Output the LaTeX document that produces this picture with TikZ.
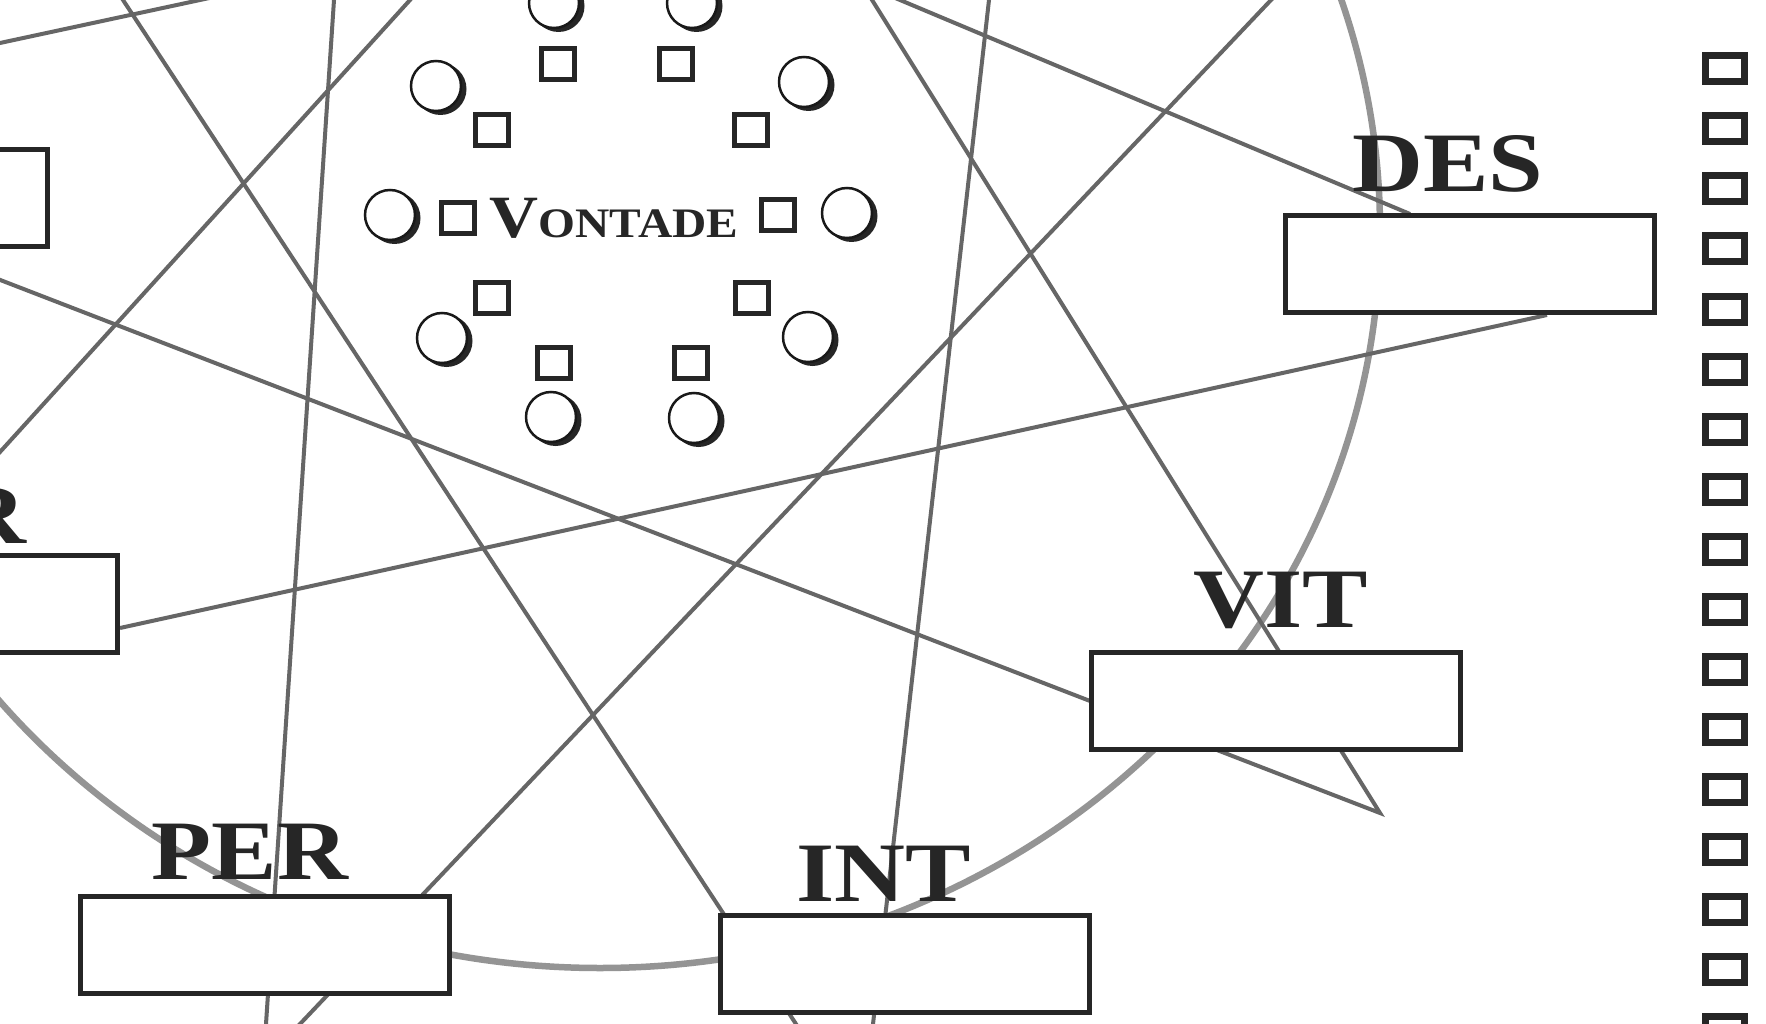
\documentclass[tikz,border=0pt]{standalone}
\usepackage{fontspec}
\setmainfont{Liberation Serif}
\usepackage{graphicx}
\begin{document}
\begin{tikzpicture}[x=1pt,y=-1pt,
  starline/.style={draw=black!60, line width=4pt, line join=miter},
  ring/.style={draw=black!42, line width=6.5pt},
  fbox/.style={draw=black!85, line width=5pt, fill=white, minimum width=369pt, minimum height=97pt, inner sep=0pt, rectangle},
  lab/.style={text=black!85, inner sep=0pt, font=\bfseries\fontsize{84.6}{84.6}\selectfont},
  tick/.style={draw=black!85, line width=7pt, fill=white, minimum width=39pt, minimum height=26pt, inner sep=0pt, rectangle},
  dotc/.style={circle, draw=black!90, line width=2.5pt, fill=white, minimum size=50pt, inner sep=0pt},
  csq/.style={rectangle, draw=black!85, line width=5pt, fill=white, minimum width=33pt, minimum height=31pt, inner sep=0pt}
]
\useasboundingbox (0,0) rectangle (1766,1024);
\fill[white] (0,0) rectangle (1766,1024);
\begin{scope}
\clip (0,0) rectangle (1766,1024);
% big ring
\draw[ring] (600,230) ellipse [x radius=780pt, y radius=738pt];
% free ends of the star lines
\coordinate (a1) at (0,43);    \coordinate (a2) at (200,0);
\coordinate (b1) at (123,0);   \coordinate (b2) at (796,1024);
\coordinate (d1) at (334,0);   \coordinate (d2) at (266,1024);
\coordinate (e1) at (410,0);   \coordinate (e2) at (0,452);
\coordinate (f1) at (0,280);   \coordinate (tip) at (1380,813); \coordinate (f2) at (872,0);
\coordinate (g1) at (120,628); \coordinate (g2) at (1547,315);
\coordinate (h1) at (1271,0);  \coordinate (h2) at (300,1024);
\coordinate (k1) at (989,0);   \coordinate (k2) at (873,1024);
\coordinate (m1) at (900,0);   \coordinate (m2) at (1410,214);
\draw[starline, shorten <=-20pt, shorten >=-20pt] (a1) -- (a2);
\draw[starline, shorten <=-20pt, shorten >=-20pt] (b1) -- (b2);
\draw[starline, shorten <=-20pt, shorten >=-20pt] (d1) -- (d2);
\draw[starline, shorten <=-20pt, shorten >=-20pt] (e1) -- (e2);
\draw[starline] ([shift={(-30,-11.7)}]f1) -- (tip) -- ([shift={(-19,-30.5)}]f2);
\draw[starline] (g1) -- (g2);
\draw[starline, shorten <=-20pt, shorten >=-20pt] (h1) -- (h2);
\draw[starline, shorten <=-20pt, shorten >=-20pt] (k1) -- (k2);
\draw[starline, shorten <=-20pt] (m1) -- (m2);
% boxes
\node[fbox] (tlbox) at (-137,198.5) {};
\node[fbox] (lbox) at (-67,603.5) {};
\node[fbox] (des) at (1470,264) {};
\node[fbox] (vit) at (1275.5,700.5) {};
\node[fbox] (int) at (905,963.5) {};
\node[fbox] (per) at (265,944.5) {};
% labels
\node[lab, anchor=base] (ldes) at (1448,192) {\scalebox{1.16}[1]{DES}};
\node[lab, anchor=base] (lvit) at (1281,627) {\scalebox{1.16}[1]{VIT}};
\node[lab, anchor=base] (lint) at (884,901) {\scalebox{1.16}[1]{INT}};
\node[lab, anchor=base] (lper) at (250,879) {\scalebox{1.16}[1]{PER}};
\node[lab, anchor=base east] (lr) at (27,543) {\scalebox{1.16}[1]{R}};
% central cluster
\foreach \x/\y [count=\i] in {554/3, 692/3, 436/86, 804/82, 390/215, 847/213, 442/338, 808/337, 551/417, 694/418}{
  \fill[black!85] (\x+4.5,\y+3) circle [radius=26pt];
  \node[dotc] (c\i) at (\x,\y) {};
}
\foreach \x/\y [count=\i] in {558/64, 676/64, 492/130, 751/130, 458/218, 778/215, 492/298, 752/298, 554/363, 691/363}{
  \node[csq] (s\i) at (\x,\y) {};
}
\node[anchor=base, inner sep=0pt, text=black!85] (vont) at (614,238)
  {\bfseries\scalebox{1.13}[1]{\fontsize{60}{60}\selectfont V\fontsize{42}{42}\selectfont ONTADE}};
% right column of small boxes
\foreach \k in {0,...,16}{
  \node[tick] (t\k) at (1725,69+60*\k) {};
}
\end{scope}
\end{tikzpicture}
\end{document}
